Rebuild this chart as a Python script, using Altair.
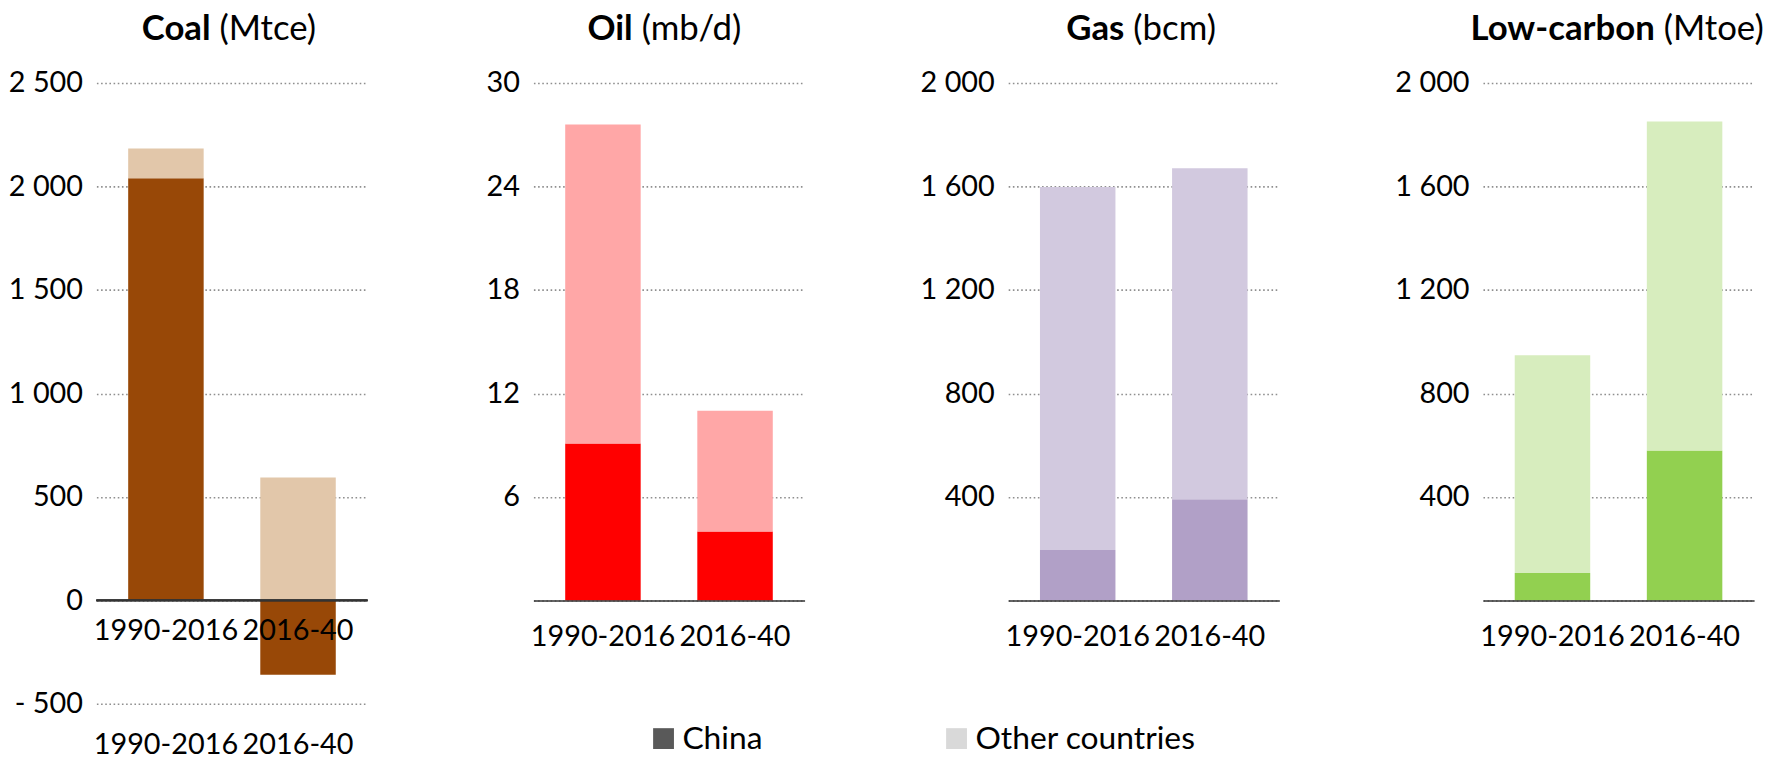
import altair as alt
import pandas as pd

# ---------------- data ----------------
periods = ["1990-2016", "2016-40"]
coal_china = [2040, -360]
coal_other = [144, 594]
oil_china = [9.1, 4.0]
oil_other = [18.5, 7.0]
gas_china = [195, 391]
gas_other = [1403, 1280]
lowc_china = [106, 580]
lowc_other = [842, 1271]

titles_bold = ["Coal", "Oil", "Gas", "Low-carbon"]
titles_unit = ["(Mtce)", "(mb/d)", "(bcm)", "(Mtoe)"]
legend_labels = ["China", "Other countries"]

y_domains = [[-500, 2500], [0, 30], [0, 2000], [0, 2000]]
y_ticks = [
    [-500, 0, 500, 1000, 1500, 2000, 2500],
    [0, 6, 12, 18, 24, 30],
    [0, 400, 800, 1200, 1600, 2000],
    [0, 400, 800, 1200, 1600, 2000],
]

# ---------------- styles ----------------
FONT = "Lato"
colors = [
    ("#984807", "#E2C7AA"),
    ("#FF0000", "#FFA7A7"),
    ("#B1A0C7", "#D2C9DF"),
    ("#92D050", "#D7EDBE"),
]
legend_colors = ["#595959", "#D9D9D9"]
W = 273
H = 521
H_COAL = 625
extents = [84, 50, 85, 85]
splits = [119, 104, 121, 177]
LABEL_SIZE = 29
TITLE_SIZE = 35


def thousands_expr(show_zero):
    base = "replace(format(datum.value, ','), ',', ' ')"
    neg = "'- ' + replace(format(-datum.value, ','), ',', ' ')"
    zero = "'0'" if show_zero else "''"
    return f"datum.value < 0 ? {neg} : (datum.value == 0 ? {zero} : {base})"


def panel(i, china, other, with_legend=False):
    coal = i == 0
    df = pd.DataFrame({
        "period": periods * 2,
        "series": [legend_labels[0]] * 2 + [legend_labels[1]] * 2,
        "order": [0, 0, 1, 1],
        "value": list(china) + list(other),
        "fill": [colors[i][0]] * 2 + [colors[i][1]] * 2,
    })
    xscale = alt.Scale(domain=periods, paddingInner=0.4286, paddingOuter=0.2406)
    xaxis = alt.Axis(
        orient="bottom", domain=not coal, domainColor="#333333", domainWidth=1.6,
        ticks=False, tickSize=0, labelPadding=27 if coal else 22, labelAngle=0,
        labelFont=FONT, labelFontSize=LABEL_SIZE, labelColor="black",
        grid=False, zindex=1,
    )
    yaxis = alt.Axis(
        values=y_ticks[i], labelExpr=thousands_expr(coal), grid=True,
        gridDash=[1.6, 2.6], gridColor="#8F8F8F", gridWidth=1.6,
        domain=False, ticks=False, tickSize=0, labelPadding=14,
        labelFont=FONT, labelFontSize=LABEL_SIZE, labelColor="black",
        minExtent=extents[i], maxExtent=extents[i], zindex=0,
    )
    x = alt.X("period:N", sort=periods, title=None, scale=xscale, axis=xaxis)
    y = alt.Y("value:Q", stack="zero", title=None,
              scale=alt.Scale(domain=y_domains[i], nice=False, zero=False),
              axis=yaxis)
    bars = alt.Chart(df).mark_bar().encode(
        x=x, y=y,
        fill=alt.Fill("fill:N", scale=None),
        order=alt.Order("order:Q"),
    )
    layers = [bars]

    if coal:
        rule = alt.Chart(df).mark_rule(color="#333333", strokeWidth=1.6).encode(
            y=alt.datum(0)
        )
        zl = pd.DataFrame({"period": periods})
        zero_labels = alt.Chart(zl).mark_text(
            baseline="top", dy=17, font=FONT, fontSize=LABEL_SIZE, color="black"
        ).encode(x=alt.X("period:N", sort=periods), y=alt.datum(0), text="period:N")
        layers += [rule, zero_labels]

    tb = pd.DataFrame({"t": [titles_bold[i]]})
    tu = pd.DataFrame({"t": [titles_unit[i]]})
    title_b = alt.Chart(tb).mark_text(
        align="right", baseline="alphabetic", font=FONT, fontWeight="bold",
        fontSize=TITLE_SIZE, color="black"
    ).encode(x=alt.value(splits[i] - 4), y=alt.value(-43), text="t:N")
    title_u = alt.Chart(tu).mark_text(
        align="left", baseline="alphabetic", font=FONT, fontWeight="normal",
        fontSize=TITLE_SIZE, color="black"
    ).encode(x=alt.value(splits[i] + 5), y=alt.value(-43), text="t:N")
    layers += [title_b, title_u]

    if with_legend:
        ld = pd.DataFrame({"label": legend_labels})
        leg = alt.Chart(ld).mark_square().encode(
            color=alt.Color(
                "label:N",
                scale=alt.Scale(domain=legend_labels, range=legend_colors),
                legend=alt.Legend(
                    title=None, orient="none", legendX=555, legendY=644,
                    direction="horizontal", symbolType="square", symbolSize=440,
                    symbolStrokeWidth=0, symbolOpacity=1, labelFont=FONT,
                    labelFontSize=32, labelColor="black", labelOffset=3,
                    labelLimit=500, columnPadding=179, padding=0, offset=0,
                ),
            )
        ).transform_filter("false")
        layers.append(leg)

    return alt.layer(*layers).properties(width=W, height=H_COAL if coal else H)


chart = alt.hconcat(
    panel(0, coal_china, coal_other, with_legend=True),
    panel(1, oil_china, oil_other),
    panel(2, gas_china, gas_other),
    panel(3, lowc_china, lowc_other),
    spacing=116,
).configure(
    font=FONT,
    padding={"left": 0, "top": 2, "right": 5, "bottom": 0},
).configure_view(stroke=None)

chart.save("out.html", embed_options={"renderer": "svg", "actions": False})
